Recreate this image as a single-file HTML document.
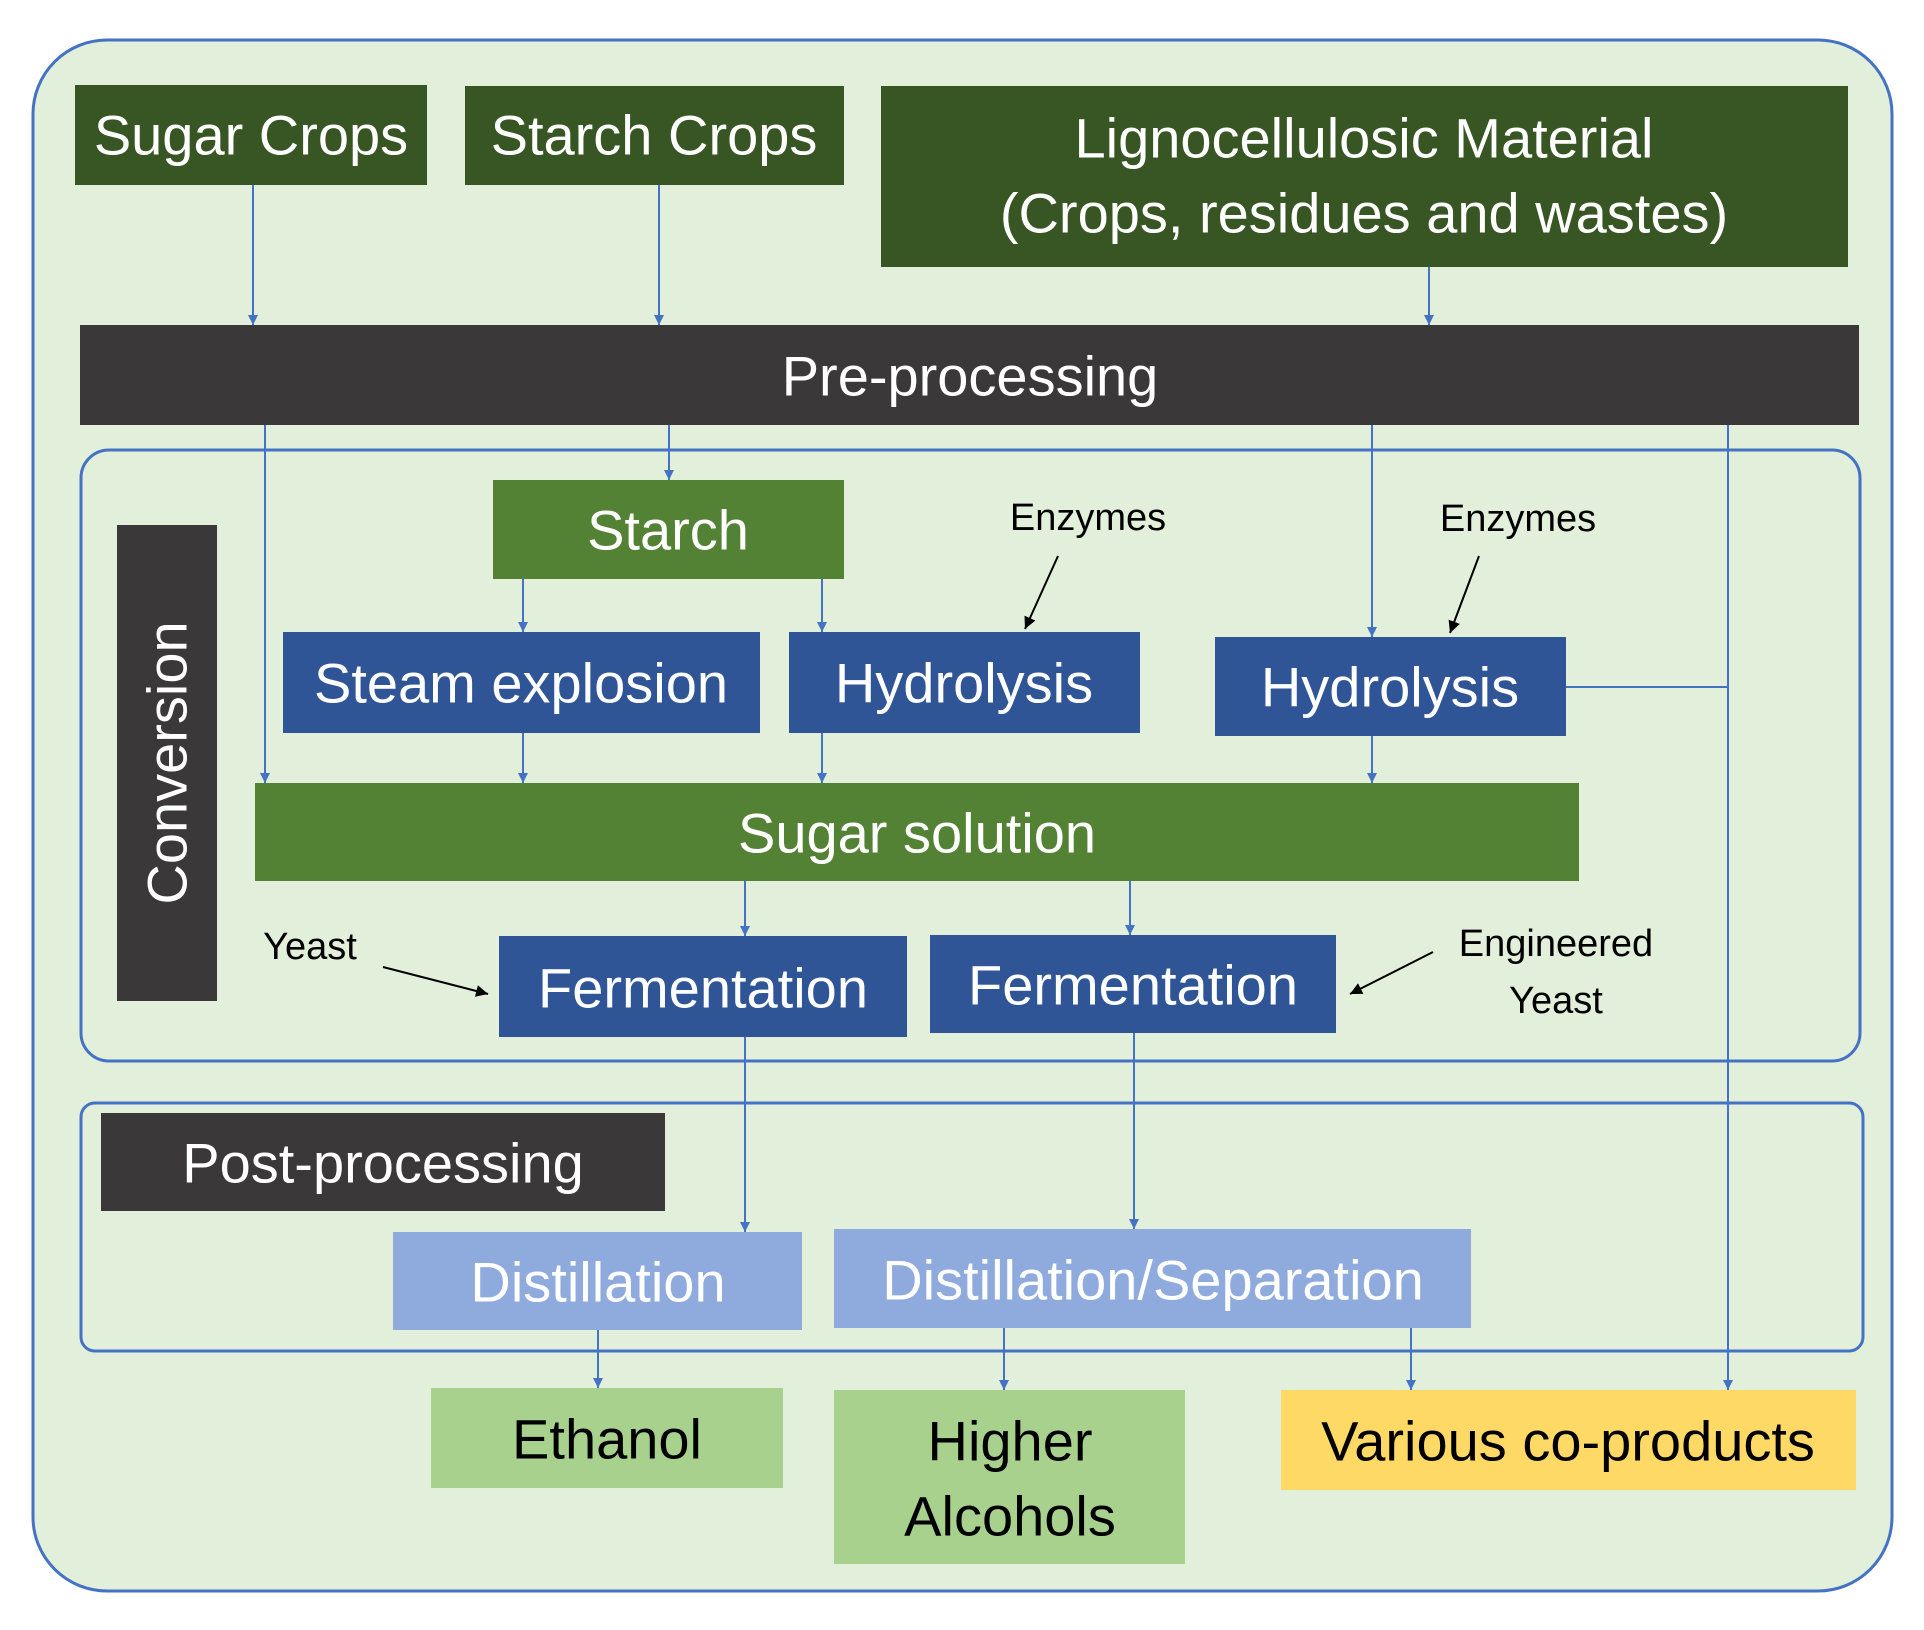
<!DOCTYPE html>
<html><head><meta charset="utf-8"><style>body{margin:0;background:#fff}svg{display:block}text{font-family:"Liberation Sans",sans-serif}</style></head>
<body>
<svg width="1924" height="1630" viewBox="0 0 1924 1630" xmlns="http://www.w3.org/2000/svg">
<defs>
<marker id="b" viewBox="0 0 10 10" refX="10" refY="5" markerWidth="5" markerHeight="5" orient="auto"><path d="M0,0L10,5L0,10z" fill="#4472C4"/></marker>
<marker id="k" viewBox="0 0 10 10" refX="10" refY="5" markerWidth="6" markerHeight="6" orient="auto"><path d="M0,0L10,5L0,10z" fill="#000"/></marker>
</defs>
<rect x="33" y="40" width="1859" height="1551" rx="74" fill="#E2EFDA" stroke="#4472C4" stroke-width="3"/>
<rect x="81" y="450" width="1779" height="611" rx="28" fill="none" stroke="#4472C4" stroke-width="3"/>
<rect x="81" y="1103" width="1782" height="248" rx="14" fill="none" stroke="#4472C4" stroke-width="3"/>
<g fill="#375623"><rect x="75" y="85" width="352" height="100"/><rect x="465" y="86" width="379" height="99"/><rect x="881" y="86" width="967" height="181"/></g>
<rect x="80" y="325" width="1779" height="100" fill="#3A3838"/>
<rect x="117" y="525" width="100" height="476" fill="#3A3838"/>
<rect x="101" y="1113" width="564" height="98" fill="#3A3838"/>
<g fill="#548235"><rect x="493" y="480" width="351" height="99"/><rect x="255" y="783" width="1324" height="98"/></g>
<g fill="#2F5597"><rect x="283" y="632" width="477" height="101"/><rect x="789" y="632" width="351" height="101"/><rect x="1215" y="637" width="351" height="99"/><rect x="499" y="936" width="408" height="101"/><rect x="930" y="935" width="406" height="98"/></g>
<g fill="#8FAADC"><rect x="393" y="1232" width="409" height="98"/><rect x="834" y="1229" width="637" height="99"/></g>
<g fill="#A9D18E"><rect x="431" y="1388" width="352" height="100"/><rect x="834" y="1390" width="351" height="174"/></g>
<rect x="1281" y="1390" width="575" height="100" fill="#FFD966"/>
<g stroke="#4472C4" stroke-width="2" fill="none" marker-end="url(#b)">
<line x1="253" y1="185" x2="253" y2="325"/><line x1="659" y1="185" x2="659" y2="325"/><line x1="1429" y1="267" x2="1429" y2="325"/>
<line x1="265" y1="425" x2="265" y2="783"/><line x1="669" y1="425" x2="669" y2="480"/><line x1="1372" y1="425" x2="1372" y2="637"/>
<line x1="1728" y1="425" x2="1728" y2="1390"/>
<line x1="523" y1="579" x2="523" y2="632"/><line x1="822" y1="579" x2="822" y2="632"/>
<line x1="523" y1="733" x2="523" y2="783"/><line x1="822" y1="733" x2="822" y2="783"/><line x1="1372" y1="736" x2="1372" y2="783"/>
<line x1="745" y1="881" x2="745" y2="936"/><line x1="1130" y1="881" x2="1130" y2="935"/>
<line x1="745" y1="1037" x2="745" y2="1232"/><line x1="1134" y1="1033" x2="1134" y2="1229"/>
<line x1="598" y1="1330" x2="598" y2="1388"/><line x1="1004" y1="1328" x2="1004" y2="1390"/><line x1="1411" y1="1328" x2="1411" y2="1390"/>
</g>
<line x1="1566" y1="687" x2="1728" y2="687" stroke="#4472C4" stroke-width="2"/>
<g stroke="#000" stroke-width="2" marker-end="url(#k)">
<line x1="1058" y1="556" x2="1025" y2="629"/><line x1="1479" y1="556" x2="1450" y2="633"/>
<line x1="383" y1="967" x2="488" y2="994"/><line x1="1433" y1="952" x2="1350" y2="994"/>
</g>
<g fill="#fff" font-size="56" text-anchor="middle" dominant-baseline="central">
<text x="251" y="135">Sugar Crops</text><text x="654" y="135">Starch Crops</text>
<text x="1364" y="138">Lignocellulosic Material</text><text x="1364" y="213">(Crops, residues and wastes)</text>
<text x="970" y="376">Pre-processing</text>
<text x="668" y="530">Starch</text>
<text x="521" y="683">Steam explosion</text><text x="964" y="683">Hydrolysis</text><text x="1390" y="687">Hydrolysis</text>
<text x="917" y="833">Sugar solution</text>
<text x="703" y="988">Fermentation</text><text x="1133" y="985">Fermentation</text>
<text x="383" y="1163">Post-processing</text>
<text transform="translate(167,763) rotate(-90)">Conversion</text>
<text x="598" y="1282">Distillation</text><text x="1153" y="1280">Distillation/Separation</text>
</g>
<g fill="#000" font-size="56" text-anchor="middle" dominant-baseline="central">
<text x="607" y="1439">Ethanol</text><text x="1010" y="1441">Higher</text><text x="1010" y="1516">Alcohols</text>
<text x="1568" y="1441">Various co-products</text>
</g>
<g fill="#000" font-size="38" text-anchor="middle" dominant-baseline="central">
<text x="1088" y="518">Enzymes</text><text x="1518" y="519">Enzymes</text>
<text x="310" y="947">Yeast</text><text x="1556" y="944">Engineered</text><text x="1556" y="1001">Yeast</text>
</g>
</svg>
</body></html>
